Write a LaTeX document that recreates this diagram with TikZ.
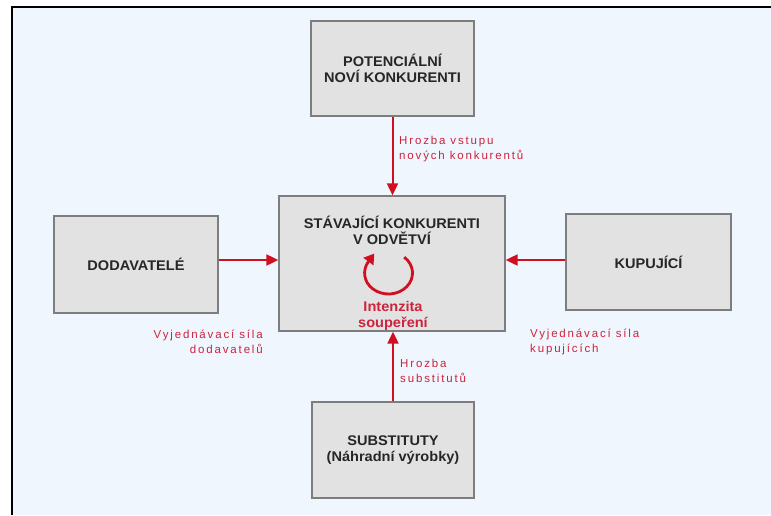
\documentclass[tikz,border=0pt]{standalone}
\usepackage{fontspec}
\setmainfont{Liberation Sans}
\newfontfamily\boxfont[FakeStretch=1.04]{Liberation Sans}
\newfontfamily\lblfont[LetterSpace=16]{Liberation Sans}
\usetikzlibrary{arrows.meta}
\definecolor{bg}{RGB}{239,246,254}
\definecolor{boxfill}{RGB}{226,226,226}
\definecolor{boxline}{RGB}{125,125,125}
\definecolor{arr}{RGB}{208,16,32}
\definecolor{lblc}{RGB}{205,35,60}
\begin{document}
\begin{tikzpicture}[x=1pt,y=-1pt,
  box/.style={draw=boxline, fill=boxfill, line width=1.3pt, inner sep=0pt, align=center,
    font=\boxfont\bfseries\fontsize{14}{16}\selectfont, text=black!85},
  btxt/.style={font=\boxfont\bfseries\fontsize{14}{16}\selectfont, align=center, text=black!85},
  rtxt/.style={font=\boxfont\bfseries\fontsize{14}{16}\selectfont, align=center, text=lblc},
  lbl/.style={font=\lblfont\fontsize{11.5}{15.5}\selectfont, text=lblc, inner sep=0pt},
  force/.style={draw=arr, line width=2pt, -{Triangle[length=12pt,width=11pt]}},
]
\useasboundingbox (0,0) rectangle (771,515);
\fill[white] (0,0) rectangle (771,515);
\fill[bg] (12,7) rectangle (771,515);
\draw[black, line width=2.5pt] (12,515) -- (12,7) -- (771,7);

\node[box, minimum width=163pt, minimum height=95pt] (top) at (392.5,68.5) {POTENCIÁLNÍ\\NOVÍ KONKURENTI};
\node[box, minimum width=226pt, minimum height=135pt] (center) at (392,263.5) {};
\node[box, minimum width=164pt, minimum height=97pt] (left) at (136,264.5) {DODAVATELÉ};
\node[box, minimum width=165pt, minimum height=96pt] (right) at (648.5,262) {KUPUJÍCÍ};
\node[box, minimum width=162pt, minimum height=96pt] (bottom) at (393,450) {SUBSTITUTY\\(Náhradní výrobky)};

\node[btxt] (ctitle) at (392,230) {STÁVAJÍCÍ KONKURENTI\\V ODVĚTVÍ};
\node[rtxt] (cint) at (393,316) {Intenzita\\soupeření};
\coordinate (cc) at (388.5,273);
\draw[arr, line width=2.8pt, shorten >=-10pt, -{Triangle[length=10pt,width=12pt]}] (cc) ++(-49:24 and 21) arc[start angle=-49, end angle=213, x radius=24, y radius=21];

\draw[force] (top.south) -- (top.south |- center.north);
\draw[force] (bottom.north) -- (bottom.north |- center.south);
\coordinate (la) at ([yshift=4.5pt]left.east);
\draw[force] (la) -- (la -| center.west);
\coordinate (ra) at ([yshift=2pt]right.west);
\draw[force] (ra) -- (ra -| center.east);

\node[lbl, anchor=west, align=left] (l1) at (399,149) {Hrozba vstupu\\nových konkurentů};
\node[lbl, anchor=east, align=right] (l2) at (263,342) {Vyjednávací síla\\dodavatelů};
\node[lbl, anchor=west, align=left] (l3) at (530,342) {Vyjednávací síla\\kupujících};
\node[lbl, anchor=west, align=left] (l4) at (400,371) {Hrozba\\substitutů};
\end{tikzpicture}
\end{document}
